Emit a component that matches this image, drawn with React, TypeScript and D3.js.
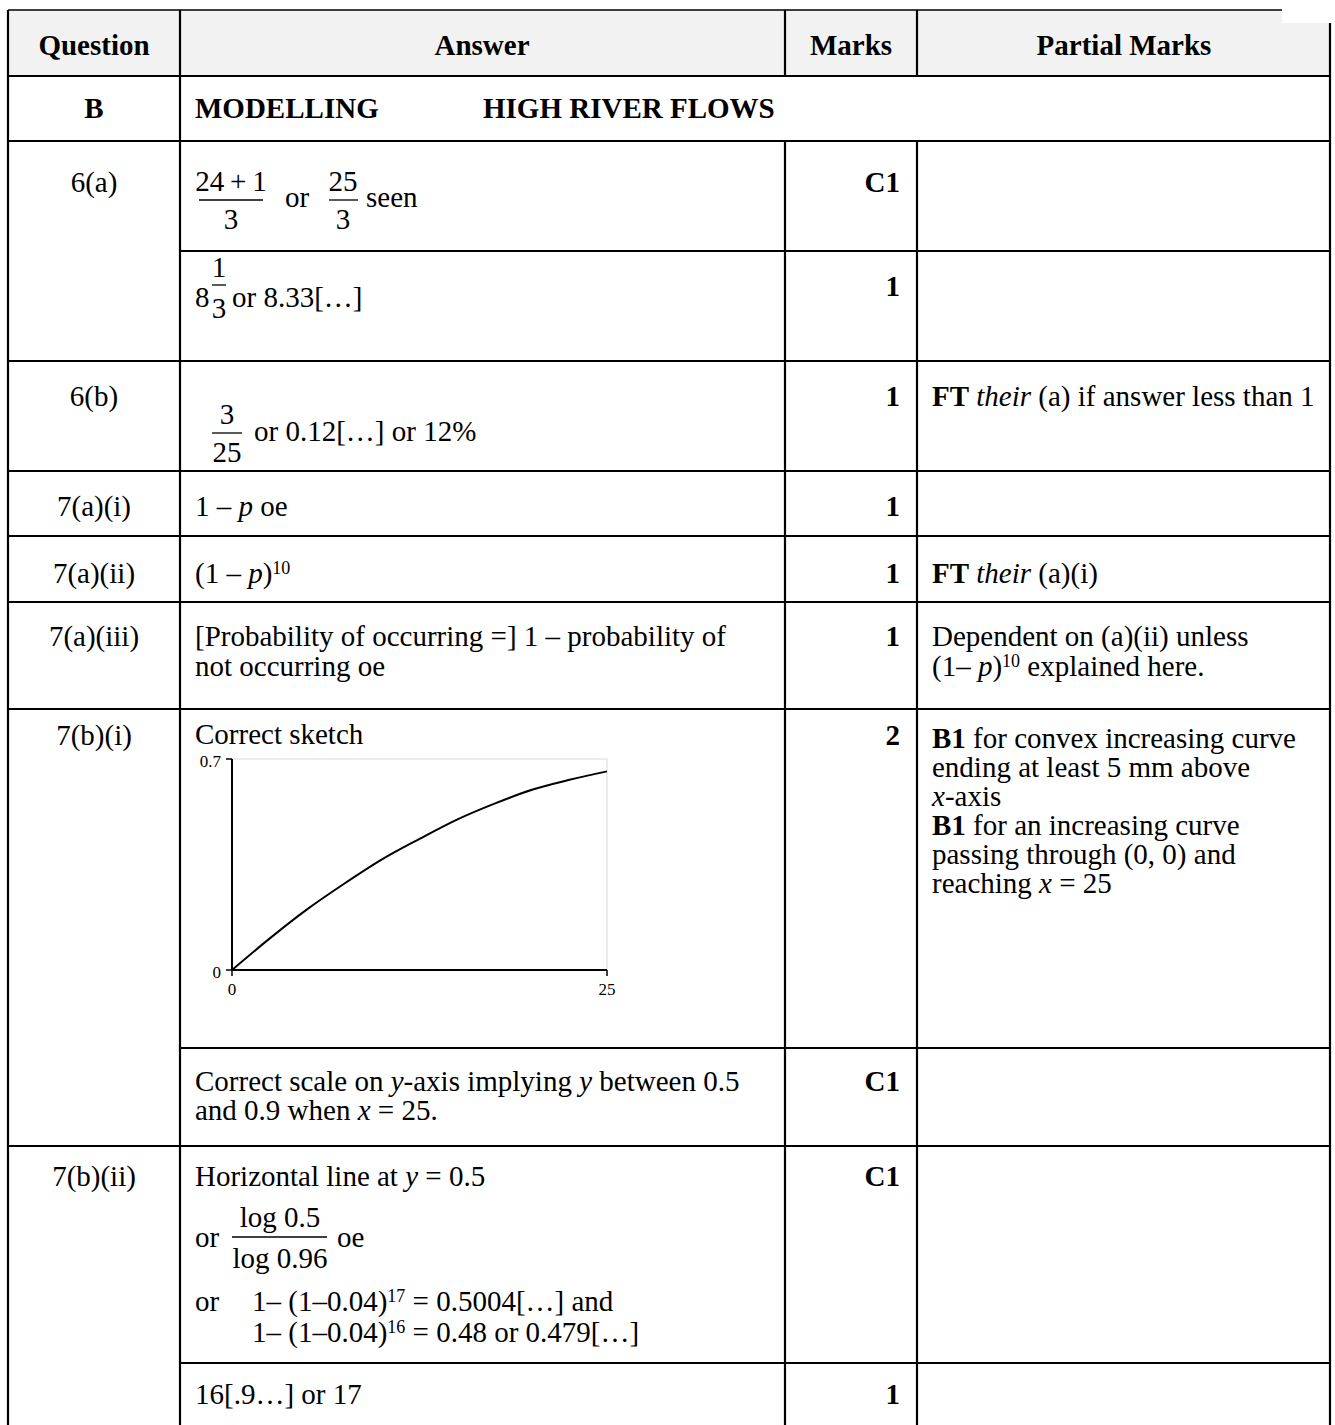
import React from 'react';
import * as d3 from 'd3';

// sketch curve
const curveX = [0, 2.5, 5, 7.5, 10, 12.5, 15, 17.5, 20, 22.5, 25];
const curveY = [0, 0.104, 0.201, 0.287, 0.367, 0.435, 0.499, 0.552, 0.598, 0.631, 0.659];
const xTicks = [0, 25];
const yTicks = [0, 0.7];

type Run = { t: string; b?: boolean; i?: boolean; sup?: boolean };
type Item = { x: number; y: number; anchor?: 'start' | 'middle' | 'end'; bold?: boolean; runs: Run[] };

const r = (t: string): Run => ({ t });
const it = (t: string): Run => ({ t, i: true });
const bd = (t: string): Run => ({ t, b: true });
const sp = (t: string): Run => ({ t, sup: true });

const headers = ['Question', 'Answer', 'Marks', 'Partial Marks'];
const headerX = [94, 482, 851, 1124];

const questions = ['6(a)', '6(b)', '7(a)(i)', '7(a)(ii)', '7(a)(iii)', '7(b)(i)', '7(b)(ii)'];
const questionY = [192, 406, 516, 583, 646, 745, 1186];

const marks = ['C1', '1', '1', '1', '1', '1', '2', 'C1', 'C1', '1'];
const marksY = [192, 296, 406, 516, 583, 646, 745, 1091, 1186, 1404];

const answerLines: Item[] = [
  { x: 285, y: 207, runs: [r('or')] },
  { x: 366, y: 207, runs: [r('seen')] },
  { x: 195, y: 307, runs: [r('8')] },
  { x: 232, y: 307, runs: [r('or 8.33[…]')] },
  { x: 254, y: 441, runs: [r('or 0.12[…] or 12%')] },
  { x: 195, y: 516, runs: [r('1 – '), it('p'), r(' oe')] },
  { x: 195, y: 583, runs: [r('(1 – '), it('p'), r(')'), sp('10')] },
  { x: 195, y: 646, runs: [r('[Probability of occurring =] 1 – probability of')] },
  { x: 195, y: 676, runs: [r('not occurring oe')] },
  { x: 195, y: 744, runs: [r('Correct sketch')] },
  { x: 195, y: 1091, runs: [r('Correct scale on '), it('y'), r('-axis implying '), it('y'), r(' between 0.5')] },
  { x: 195, y: 1120, runs: [r('and 0.9 when '), it('x'), r(' = 25.')] },
  { x: 195, y: 1186, runs: [r('Horizontal line at '), it('y'), r(' = 0.5')] },
  { x: 195, y: 1247, runs: [r('or')] },
  { x: 337, y: 1247, runs: [r('oe')] },
  { x: 195, y: 1311, runs: [r('or')] },
  { x: 252, y: 1311, runs: [r('1– (1–0.04)'), sp('17'), r(' = 0.5004[…] and')] },
  { x: 252, y: 1342, runs: [r('1– (1–0.04)'), sp('16'), r(' = 0.48 or 0.479[…]')] },
  { x: 195, y: 1404, runs: [r('16[.9…] or 17')] },
];

// fractions: centre x, bar from/to, bar y, numerator/denominator baselines
const fractions = [
  { cx: 231, x1: 199, x2: 263, y: 200, num: '24\u2009+\u20091', den: '3', ny: 191, dy: 229 },
  { cx: 343, x1: 329, x2: 358, y: 200, num: '25', den: '3', ny: 191, dy: 229 },
  { cx: 219, x1: 212, x2: 226, y: 285, num: '1', den: '3', ny: 277, dy: 318 },
  { cx: 227, x1: 212, x2: 242, y: 433, num: '3', den: '25', ny: 424, dy: 462 },
  { cx: 280, x1: 232, x2: 327, y: 1237, num: 'log 0.5', den: 'log 0.96', ny: 1227, dy: 1268 },
];

const partialLines: Item[] = [
  { x: 932, y: 406, runs: [bd('FT'), r(' '), it('their'), r(' (a) if answer less than 1')] },
  { x: 932, y: 583, runs: [bd('FT'), r(' '), it('their'), r(' (a)(i)')] },
  { x: 932, y: 646, runs: [r('Dependent on (a)(ii) unless')] },
  { x: 932, y: 676, runs: [r('(1– '), it('p'), r(')'), sp('10'), r(' explained here.')] },
  { x: 932, y: 748, runs: [bd('B1'), r(' for convex increasing curve')] },
  { x: 932, y: 777, runs: [r('ending at least 5 mm above')] },
  { x: 932, y: 806, runs: [it('x'), r('-axis')] },
  { x: 932, y: 835, runs: [bd('B1'), r(' for an increasing curve')] },
  { x: 932, y: 864, runs: [r('passing through (0, 0) and')] },
  { x: 932, y: 893, runs: [r('reaching '), it('x'), r(' = 25')] },
];

// table rules: [y, x1, x2]
const hRules: [number, number, number][] = [
  [76, 8, 1330], [141, 8, 1330], [251, 180, 1330], [361, 8, 1330], [471, 8, 1330],
  [536, 8, 1330], [602, 8, 1330], [709, 8, 1330], [1048, 180, 1330], [1146, 8, 1330], [1363, 180, 1330],
];
// [x, y1, y2]
const vRules: [number, number, number][] = [
  [8, 10, 1425], [180, 10, 1425], [785, 10, 76], [785, 141, 1425],
  [917, 10, 76], [917, 141, 1425], [1330, 23, 1425],
];

const FONT = '"Liberation Serif", "Times New Roman", serif';
const FS = 29;

const RichText: React.FC<{ item: Item }> = ({ item }) => {
  let raised = false;
  return (
    <text x={item.x} y={item.y} textAnchor={item.anchor || 'start'} fontWeight={item.bold ? 'bold' : 'normal'}
      style={{ whiteSpace: 'pre' }}>
      {item.runs.map((run, k) => {
        let dy = 0;
        if (run.sup && !raised) { dy = -9; raised = true; }
        else if (!run.sup && raised) { dy = 9; raised = false; }
        return (
          <tspan key={k} dy={dy || undefined} fontSize={run.sup ? 18 : undefined}
            fontWeight={run.b ? 'bold' : undefined} fontStyle={run.i ? 'italic' : undefined}>
            {run.t}
          </tspan>
        );
      })}
    </text>
  );
};

const Sketch: React.FC = () => {
  const x = d3.scaleLinear().domain([0, 25]).range([232, 607]);
  const y = d3.scaleLinear().domain([0, 0.7]).range([970, 759]);
  const pts = curveX.map((v, k) => [v, curveY[k]] as [number, number]);
  const line = d3.line<[number, number]>()
    .x(d => x(d[0]))
    .y(d => y(d[1]))
    .curve(d3.curveMonotoneX);
  return (
    <g>
      {/* light frame on top and right */}
      <path d={`M${x(0)},${y(0.7)}H${x(25)}V${y(0)}`} fill="none" stroke="#d9d9d9" strokeWidth={1} />
      <path d={line(pts) || ''} fill="none" stroke="#000" strokeWidth={2} />
      <line x1={x(0)} y1={y(0)} x2={x(25)} y2={y(0)} stroke="#000" strokeWidth={2} />
      <line x1={x(0)} y1={y(0)} x2={x(0)} y2={y(0.7)} stroke="#000" strokeWidth={2} />
      {xTicks.map(t => (
        <g key={'x' + t}>
          <line x1={x(t)} x2={x(t)} y1={y(0)} y2={y(0) + 6} stroke="#000" strokeWidth={1.5} />
          <text x={x(t)} y={y(0) + 25} textAnchor="middle" fontSize={17}>{t}</text>
        </g>
      ))}
      {yTicks.map(t => (
        <g key={'y' + t}>
          <line x1={x(0) - 6} x2={x(0)} y1={y(t)} y2={y(t)} stroke="#000" strokeWidth={1.5} />
          <text x={x(0) - 11} y={y(t) + 8} textAnchor="end" fontSize={17}>{t}</text>
        </g>
      ))}
    </g>
  );
};

const App: React.FC = () => {
  return (
    <svg width={1335} height={1425} viewBox="0 0 1335 1425"
      style={{ position: 'absolute', left: 0, top: 0, background: '#fff' }}
      fontFamily={FONT} fontSize={FS} fill="#000">
      {/* header shading, the right end starts a little lower */}
      <rect x={8} y={10} width={1274} height={66} fill="#f2f2f2" />
      <rect x={1282} y={23} width={48} height={53} fill="#f2f2f2" />
      <line x1={8} y1={10} x2={1282} y2={10} stroke="#000" strokeWidth={1.3} />
      {hRules.map(([yy, a, b], k) => (
        <line key={'h' + k} x1={a - 1} x2={b + 1} y1={yy} y2={yy} stroke="#000" strokeWidth={2.2} />
      ))}
      {vRules.map(([xx, a, b], k) => (
        <line key={'v' + k} x1={xx} x2={xx} y1={a} y2={b} stroke="#000" strokeWidth={2.2} />
      ))}

      {headers.map((h, k) => (
        <text key={h} x={headerX[k]} y={55} textAnchor="middle" fontWeight="bold">{h}</text>
      ))}

      <text x={94} y={118} textAnchor="middle" fontWeight="bold">B</text>
      <text x={195} y={118} fontWeight="bold">MODELLING</text>
      <text x={483} y={118} fontWeight="bold">HIGH RIVER FLOWS</text>

      {questions.map((q, k) => (
        <text key={q} x={94} y={questionY[k]} textAnchor="middle">{q}</text>
      ))}
      {marks.map((m, k) => (
        <text key={k} x={900} y={marksY[k]} textAnchor="end" fontWeight="bold">{m}</text>
      ))}

      {answerLines.map((a, k) => <RichText key={'a' + k} item={a} />)}
      {fractions.map((f, k) => (
        <g key={'f' + k}>
          <text x={f.cx} y={f.ny} textAnchor="middle">{f.num}</text>
          <line x1={f.x1} x2={f.x2} y1={f.y} y2={f.y} stroke="#000" strokeWidth={1.3} />
          <text x={f.cx} y={f.dy} textAnchor="middle">{f.den}</text>
        </g>
      ))}
      {partialLines.map((p, k) => <RichText key={'p' + k} item={p} />)}

      <Sketch />
    </svg>
  );
};

export default App;
